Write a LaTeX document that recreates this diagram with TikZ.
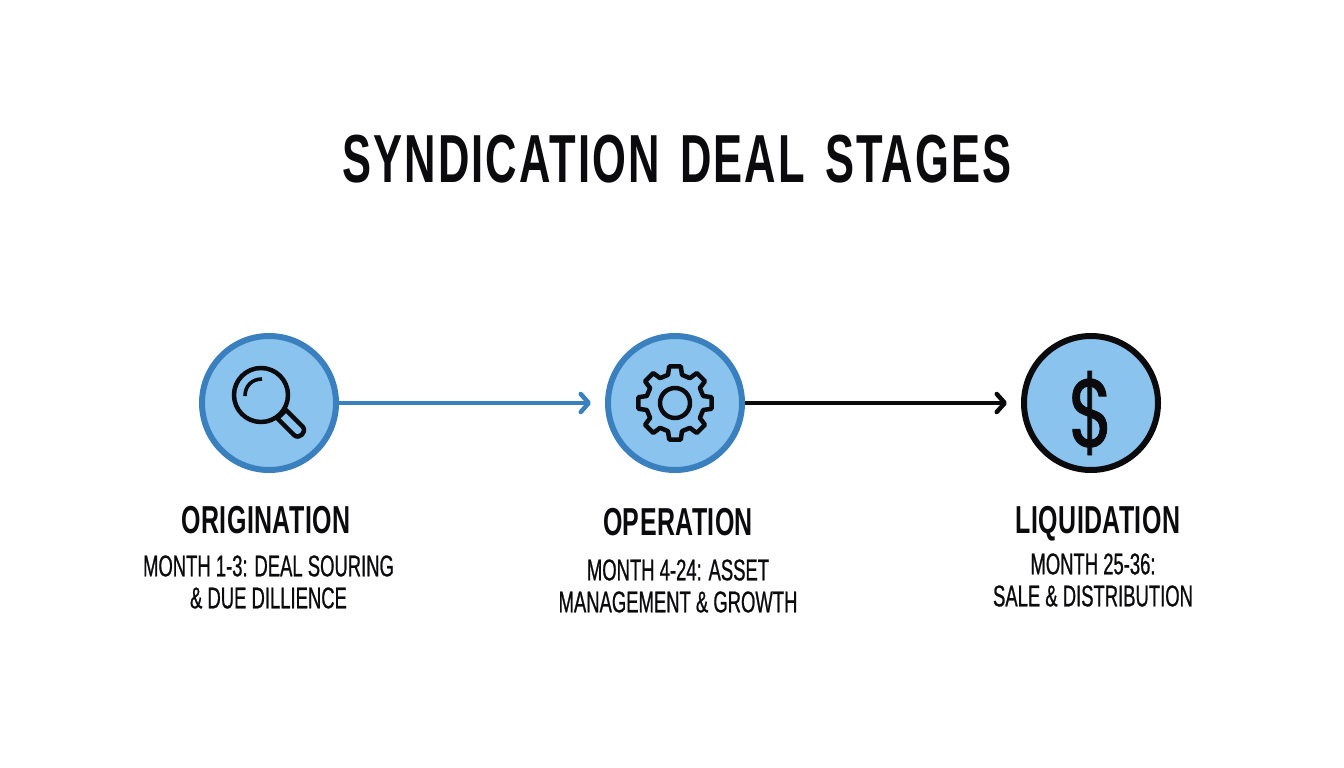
\documentclass[tikz,border=0pt]{standalone}
\usepackage{fontspec}
\usetikzlibrary{arrows.meta}
\newfontfamily\titlefont[FakeStretch=0.64,LetterSpace=3,WordSpace=1.45]{Liberation Sans Bold}
\newfontfamily\headfont[FakeStretch=0.64,LetterSpace=1]{Liberation Sans Bold}
\newfontfamily\subfont[FakeStretch=0.615,FakeBold=0.7]{Liberation Sans}
\newfontfamily\dollarfont[FakeStretch=0.76,FakeBold=1]{Poppins}
\definecolor{ringblue}{HTML}{3B80BE}
\definecolor{fillblue}{HTML}{89C3EE}
\definecolor{inkblack}{HTML}{0B0B0D}
\tikzset{
  stage/.style={circle,minimum size=134pt,inner sep=0pt,line width=6pt,fill=fillblue},
  link/.style={line width=4.5pt,-{Straight Barb[length=8pt,width=18pt,line width=4.5pt,round]},shorten >=14pt},
  icon/.style={line width=4.5pt,draw=inkblack,line join=round,line cap=round},
  heading/.style={font=\headfont\fontsize{39}{39}\selectfont,text=inkblack,inner sep=0pt,anchor=base},
  detail/.style={font=\subfont\fontsize{30}{32}\selectfont,text=inkblack,inner sep=0pt,align=center,anchor=center}
}
\begin{document}
\begin{tikzpicture}[x=1pt,y=-1pt]
\useasboundingbox (0,0) rectangle (1344,768);
\node[font=\titlefont\fontsize{68}{68}\selectfont,text=inkblack,inner sep=0pt] (title) at (677,159) {SYNDICATION DEAL STAGES};
\node[stage,draw=ringblue] (s1) at (269,403) {};
\node[stage,draw=ringblue] (s2) at (675,403) {};
\node[stage,draw=inkblack] (s3) at (1091,403) {};
\draw[link,draw=ringblue] (s1) -- (s2);
\draw[link,draw=inkblack] (s2) -- (s3);
% magnifier
\draw[icon] (261,395) circle (27);
\draw[icon,line width=3.6pt,line cap=butt] (245,396) .. controls (245,386) and (252,379) .. (262,379);
\draw[icon] (281,415) -- (286,410) -- (303,427) .. controls (307,432) and (299,440) .. (294,435) -- (277,418) -- cycle;
% gear
\draw[icon,shift={(675,403)}] (81:37)
  \foreach \a in {90,135,180,225,270,315,360,405} { -- (\a-9:37) -- (\a+9:37) -- (\a+14:29) -- (\a+31:29) } -- cycle;
\draw[icon] (675,403) circle (15);
% dollar
\node[font=\dollarfont\fontsize{96}{96}\selectfont,text=inkblack,inner sep=0pt] (dollar) at (1091,413) {\$};
% labels
\node[heading] (h1) at (266,533) {ORIGINATION};
\node[detail] (d1) at (268.5,582) {MONTH 1-3: DEAL SOURING\\\& DUE DILLIENCE};
\node[heading] (h2) at (678,535) {OPERATION};
\node[detail] (d2) at (678,586) {MONTH 4-24: ASSET\\MANAGEMENT \& GROWTH};
\node[heading] (h3) at (1098,533) {LIQUIDATION};
\node[detail] (d3) at (1093,580) {MONTH 25-36:\\SALE \& DISTRIBUTION};
\end{tikzpicture}
\end{document}
